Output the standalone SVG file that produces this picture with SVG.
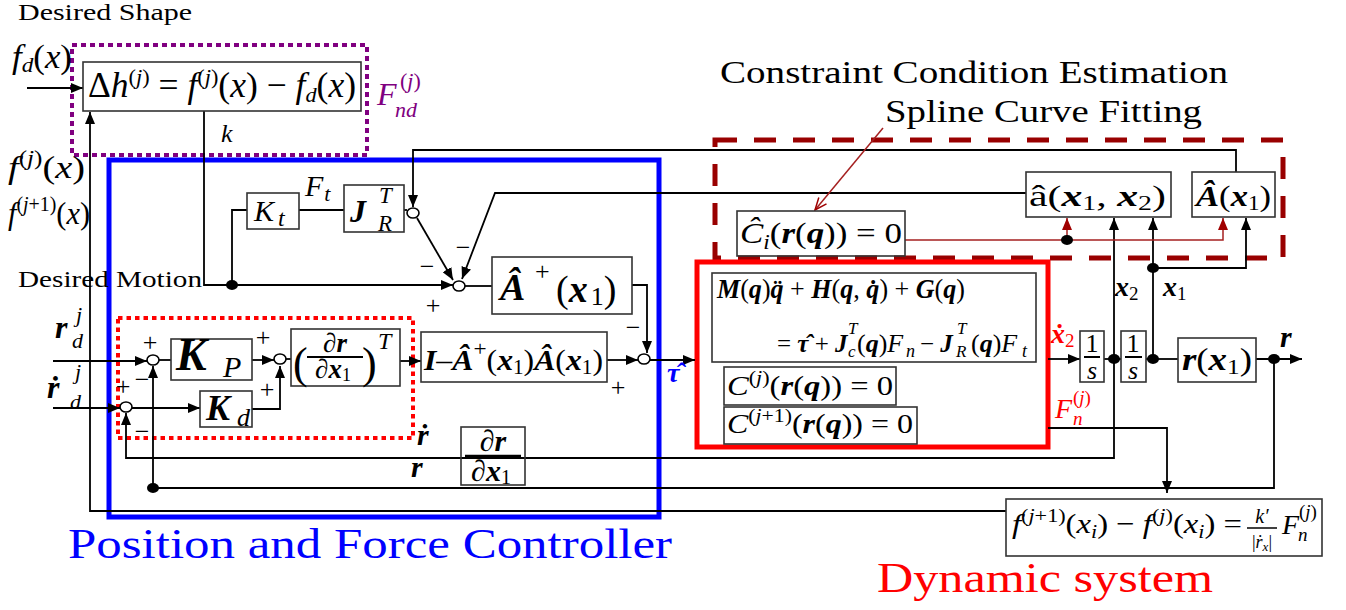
<svg xmlns="http://www.w3.org/2000/svg" width="1346" height="610" viewBox="0 0 1346 610">
<style>
text{font-family:"Liberation Serif","Times New Roman",serif;fill:#000}
.m{font-style:italic}
.b{font-weight:bold;font-style:italic}
.n{font-weight:normal;font-style:normal}
.bl{fill:#0000ff}
.rd{fill:#ff0000}
.pu{fill:#800080}
.box{fill:none;stroke:#333;stroke-width:1.6}
.ln{fill:none;stroke:#000;stroke-width:1.8}
.dr{fill:none;stroke:#a52020;stroke-width:1.5}
.jn{fill:#fff;stroke:#000;stroke-width:1.6}
.dot{fill:#000}
.sg{font-size:26px;text-anchor:middle}
</style>
<defs>
<marker id="ah" viewBox="0 0 12 10" refX="12" refY="5" markerWidth="12" markerHeight="10" markerUnits="userSpaceOnUse" orient="auto"><path d="M0,0L12,5L0,10z" fill="#000"/></marker>
<marker id="ahr" viewBox="0 0 12 10" refX="12" refY="5" markerWidth="12" markerHeight="10" markerUnits="userSpaceOnUse" orient="auto"><path d="M0,0L12,5L0,10z" fill="#a00000"/></marker>
<marker id="ahv" viewBox="0 0 14 12" refX="13" refY="6" markerWidth="14" markerHeight="12" markerUnits="userSpaceOnUse" orient="auto"><path d="M1,1L13,6L1,11" fill="none" stroke="#a00000" stroke-width="1.5"/></marker>
</defs>

<!-- frames -->
<g id="frames">
<rect x="72" y="45" width="295" height="110" fill="none" stroke="#800080" stroke-width="4" stroke-dasharray="5 4"/>
<rect x="109" y="160" width="550" height="357" fill="none" stroke="#0000ff" stroke-width="5"/>
<rect x="118" y="318" width="295" height="120" fill="none" stroke="#ff0000" stroke-width="4" stroke-dasharray="4.5 4"/>
<rect x="715" y="140" width="568" height="118" fill="none" stroke="#990000" stroke-width="5" stroke-dasharray="22 17"/>
<rect x="697" y="262" width="351" height="185" fill="none" stroke="#ff0000" stroke-width="5"/>
</g>

<!-- connectors -->
<g id="connectors">
<path class="ln" d="M27,88H83" marker-end="url(#ah)"/>
<path class="ln" d="M1006,511H90V112" marker-end="url(#ah)"/>
<path class="ln" d="M204,111V285H453" marker-end="url(#ah)"/>
<path class="ln" d="M232,285V210H247"/>
<path class="ln" d="M299,210H344"/>
<path class="ln" d="M404,210H407"/>
<path class="ln" d="M1236,172V150H413V207" marker-end="url(#ah)"/>
<path class="ln" d="M1026,193H495L462,279" marker-end="url(#ah)"/>
<path class="ln" d="M417,218L453,280" marker-end="url(#ah)"/>
<path class="ln" d="M465,286H492"/>
<path class="ln" d="M632,285H647V353" marker-end="url(#ah)"/>
<path class="ln" d="M607,360H638" marker-end="url(#ah)"/>
<path class="ln" d="M650,360H695" marker-end="url(#ah)"/>
<path class="ln" d="M53,361H147" marker-end="url(#ah)"/>
<path class="ln" d="M53,408H120" marker-end="url(#ah)"/>
<path class="ln" d="M159,360H171"/>
<path class="ln" d="M132,408H200" marker-end="url(#ah)"/>
<path class="ln" d="M252,360H274" marker-end="url(#ah)"/>
<path class="ln" d="M252,409H280V366" marker-end="url(#ah)"/>
<path class="ln" d="M286,359H291"/>
<path class="ln" d="M400,361H421" marker-end="url(#ah)"/>
<path class="ln" d="M1114,359V458H126V413" marker-end="url(#ah)"/>
<path class="ln" d="M1274,359V488H153V366" marker-end="url(#ah)"/>
<path class="ln" d="M1048,359H1080" marker-end="url(#ah)"/>
<path class="ln" d="M1104,359H1121"/>
<path class="ln" d="M1146,359H1178"/>
<path class="ln" d="M1256,359H1302" marker-end="url(#ah)"/>
<path class="ln" d="M1114,359V218" marker-end="url(#ah)"/>
<path class="ln" d="M1153,359V218" marker-end="url(#ah)"/>
<path class="ln" d="M1153,268H1246V218" marker-end="url(#ah)"/>
<path class="ln" d="M1048,428H1167V493" marker-end="url(#ah)"/>
<path class="dr" d="M905,240H1223V218" marker-end="url(#ahr)"/>
<path class="dr" d="M1067,240V218" marker-end="url(#ahr)"/>
<path class="dr" d="M883,128L815,210" marker-end="url(#ahv)"/>
<ellipse class="dot" cx="232" cy="285" rx="6" ry="5"/>
<ellipse class="dot" cx="153" cy="488" rx="6" ry="5"/>
<ellipse class="dot" cx="1114" cy="359" rx="6" ry="5"/>
<ellipse class="dot" cx="1153" cy="359" rx="6" ry="5"/>
<ellipse class="dot" cx="1274" cy="359" rx="6" ry="5"/>
<ellipse class="dot" cx="1153" cy="268" rx="6" ry="5"/>
<ellipse class="dot" cx="1067" cy="240" rx="6" ry="5"/>
</g>

<!-- junctions -->
<g id="sum1"><ellipse class="jn" cx="153" cy="360" rx="6" ry="5"/><text class="sg" x="150" y="351">+</text><text class="sg" x="142" y="388">−</text></g>
<g id="sum2"><ellipse class="jn" cx="126" cy="407" rx="6" ry="5"/><text class="sg" x="123" y="395">+</text><text class="sg" x="142" y="440">−</text></g>
<g id="sum3"><ellipse class="jn" cx="280" cy="359" rx="6" ry="5"/><text class="sg" x="263" y="346">+</text><text class="sg" x="267" y="398">+</text></g>
<g id="sum4"><ellipse class="jn" cx="459" cy="286" rx="6" ry="5"/><text class="sg" x="463" y="256">−</text><text class="sg" x="427" y="275">−</text><text class="sg" x="433" y="314">+</text></g>
<g id="sum5"><ellipse class="jn" cx="644" cy="359" rx="6" ry="5"/><text class="sg" x="633" y="336">−</text><text class="sg" x="618" y="396">+</text></g>
<g id="sumR"><ellipse class="jn" cx="413" cy="213" rx="6" ry="5"/></g>

<!-- labels -->
<g id="labels">
<text x="18" y="20" font-size="23" textLength="174" lengthAdjust="spacingAndGlyphs">Desired Shape</text>
<text x="18" y="287" font-size="23" textLength="184" lengthAdjust="spacingAndGlyphs">Desired Motion</text>
<text x="12" y="68" font-size="33" textLength="60" lengthAdjust="spacingAndGlyphs"><tspan class="m">f</tspan><tspan class="m" font-size="22" dy="4">d</tspan><tspan dy="-4">(</tspan><tspan class="m">x</tspan>)</text>
<text class="pu m" x="377" y="105" font-size="32">F</text>
<text class="pu" x="400" y="88" font-size="22">(<tspan class="m">j</tspan>)</text>
<text class="pu m" x="395" y="117" font-size="22">nd</text>
<text class="m" x="221" y="142" font-size="26">k</text>
<text x="8" y="178" font-size="32" textLength="77" lengthAdjust="spacingAndGlyphs"><tspan class="m">f</tspan><tspan font-size="21" dy="-13">(<tspan class="m">j</tspan>)</tspan><tspan dy="13">(</tspan><tspan class="m">x</tspan>)</text>
<text x="8" y="224" font-size="32" textLength="82" lengthAdjust="spacingAndGlyphs"><tspan class="m">f</tspan><tspan font-size="21" dy="-13">(<tspan class="m">j</tspan>+1)</tspan><tspan dy="13">(</tspan><tspan class="m">x</tspan>)</text>
<text class="m" x="305" y="196" font-size="30">F<tspan font-size="22" dx="1" dy="5">t</tspan></text>
<text class="b" x="55" y="338" font-size="32">r</text>
<text class="m" x="76" y="322" font-size="22">j</text>
<text class="m" x="72" y="348" font-size="22">d</text>
<text class="b" x="47" y="398" font-size="32">ṙ</text>
<text class="m" x="75" y="379" font-size="22">j</text>
<text class="m" x="70" y="409" font-size="22">d</text>
<text class="b" x="417" y="445" font-size="30">ṙ</text>
<text class="b" x="411" y="477" font-size="30">r</text>
<text class="bl b" x="667" y="382" font-size="28">τ̂</text>
<text x="720" y="83" font-size="31" textLength="508" lengthAdjust="spacingAndGlyphs">Constraint Condition Estimation</text>
<text x="885" y="122" font-size="31" textLength="317" lengthAdjust="spacingAndGlyphs">Spline Curve Fitting</text>
<text class="b" x="1115" y="296" font-size="28">x<tspan class="n" font-size="19" dy="4">2</tspan></text>
<text class="b" x="1163" y="296" font-size="28">x<tspan class="n" font-size="19" dy="4">1</tspan></text>
<text class="rd b" x="1051" y="343" font-size="28">ẋ<tspan class="n" font-size="19" dy="4">2</tspan></text>
<text class="rd m" x="1055" y="418" font-size="28">F</text>
<text class="rd" x="1073" y="404" font-size="19">(<tspan class="m">j</tspan>)</text>
<text class="rd m" x="1073" y="425" font-size="19">n</text>
<text class="b" x="1280" y="347" font-size="30">r</text>
<text class="bl" x="68" y="558" font-size="43" textLength="604" lengthAdjust="spacingAndGlyphs">Position and Force Controller</text>
<text class="rd" x="877" y="592" font-size="43" textLength="336" lengthAdjust="spacingAndGlyphs">Dynamic system</text>
</g>

<!-- nodes -->
<g id="node-dh">
<rect class="box" x="83" y="62" width="278" height="49" fill="#fff"/>
<text x="88" y="97" font-size="35" textLength="268" lengthAdjust="spacingAndGlyphs">Δ<tspan class="m">h</tspan><tspan font-size="22" dy="-13">(<tspan class="m">j</tspan>)</tspan><tspan dy="13"> = </tspan><tspan class="m">f</tspan><tspan font-size="22" dy="-13">(<tspan class="m">j</tspan>)</tspan><tspan dy="13">(</tspan><tspan class="m">x</tspan>) − <tspan class="m">f</tspan><tspan class="m" font-size="22" dy="5">d</tspan><tspan dy="-5">(</tspan><tspan class="m">x</tspan>)</text>
</g>
<g id="node-kt">
<rect class="box" x="247" y="193" width="52" height="36"/>
<text class="m" x="254" y="221" font-size="30">K<tspan font-size="24" dx="4" dy="5">t</tspan></text>
</g>
<g id="node-jr">
<rect class="box" x="344" y="185" width="60" height="47"/>
<text class="b" x="350" y="222" font-size="32">J</text>
<text class="m" x="379" y="203" font-size="23">T</text>
<text class="m" x="378" y="231" font-size="23">R</text>
</g>
<g id="node-aplus">
<rect class="box" x="492" y="257" width="140" height="57"/>
<text class="b" x="500" y="300" font-size="38">Â</text>
<text x="535" y="280" font-size="26">+</text>
<text x="556" y="302" font-size="38">(<tspan class="b">x</tspan><tspan font-size="26" dx="3" dy="3">1</tspan><tspan dy="-3">)</tspan></text>
</g>
<g id="node-kp">
<rect class="box" x="171" y="339" width="81" height="41"/>
<text class="b" x="176" y="370" font-size="46">K</text>
<text class="m" x="223" y="377" font-size="30">P</text>
</g>
<g id="node-kd">
<rect class="box" x="200" y="391" width="52" height="36"/>
<text class="b" x="206" y="420" font-size="36">K</text>
<text class="m" x="237" y="426" font-size="26">d</text>
</g>
<g id="node-jt">
<rect class="box" x="291" y="329" width="109" height="57"/>
<text x="293" y="378" font-size="44">(</text>
<text x="335" y="352" font-size="27" text-anchor="middle">∂<tspan class="b">r</tspan></text>
<line x1="307" y1="357" x2="363" y2="357" stroke="#000" stroke-width="2"/>
<text x="333" y="378" font-size="27" text-anchor="middle">∂<tspan class="b">x</tspan><tspan font-size="18" dy="3">1</tspan></text>
<text x="362" y="378" font-size="44">)</text>
<text class="m" x="378" y="349" font-size="24">T</text>
</g>
<g id="node-null">
<rect class="box" x="421" y="332" width="186" height="50"/>
<text x="424" y="370" font-size="30" textLength="179" lengthAdjust="spacingAndGlyphs"><tspan class="b">I</tspan>–<tspan class="b">Â</tspan><tspan font-size="22" dy="-14">+</tspan><tspan dy="14">(</tspan><tspan class="b">x</tspan><tspan font-size="20" dy="4">1</tspan><tspan dy="-4">)</tspan><tspan class="b">Â</tspan>(<tspan class="b">x</tspan><tspan font-size="20" dy="4">1</tspan><tspan dy="-4">)</tspan></text>
</g>
<g id="node-drdx">
<rect class="box" x="461" y="427" width="64" height="58"/>
<text x="493" y="451" font-size="30" text-anchor="middle">∂<tspan class="b">r</tspan></text>
<line x1="465" y1="456" x2="521" y2="456" stroke="#000" stroke-width="2.5"/>
<text x="491" y="481" font-size="30" text-anchor="middle">∂<tspan class="b">x</tspan><tspan font-size="20" dy="3">1</tspan></text>
</g>
<g id="node-dyn">
<rect class="box" x="712" y="273" width="324" height="89"/>
<text x="717" y="298" font-size="27" textLength="248" lengthAdjust="spacingAndGlyphs"><tspan class="b">M</tspan>(<tspan class="b">q</tspan>)<tspan class="b">q̈</tspan> + <tspan class="b">H</tspan>(<tspan class="b">q</tspan>, <tspan class="b">q̇</tspan>) + <tspan class="b">G</tspan>(<tspan class="b">q</tspan>)</text>
<text x="777" y="352" font-size="25">= <tspan class="b">τ̂</tspan> + <tspan class="b">J</tspan></text>
<text class="m" x="848" y="334" font-size="17">T</text>
<text class="m" x="848" y="357" font-size="17">c</text>
<text x="857" y="352" font-size="26">(<tspan class="b">q</tspan>)<tspan class="m">F</tspan></text>
<text class="m" x="906" y="357" font-size="18">n</text>
<text x="920" y="352" font-size="25">− <tspan class="b">J</tspan></text>
<text class="m" x="957" y="334" font-size="17">T</text>
<text class="m" x="956" y="357" font-size="17">R</text>
<text x="971" y="352" font-size="26">(<tspan class="b">q</tspan>)<tspan class="m">F</tspan></text>
<text class="m" x="1022" y="357" font-size="18">t</text>
</g>
<g id="node-cj">
<rect class="box" x="724" y="367" width="172" height="38"/>
<text x="727" y="395" font-size="28" textLength="166" lengthAdjust="spacingAndGlyphs"><tspan class="m">C</tspan><tspan font-size="19" dy="-11">(<tspan class="m">j</tspan>)</tspan><tspan dy="11">(</tspan><tspan class="b">r</tspan>(<tspan class="b">q</tspan>)) = 0</text>
</g>
<g id="node-cj1">
<rect class="box" x="724" y="407" width="193" height="37"/>
<text x="727" y="433" font-size="28" textLength="186" lengthAdjust="spacingAndGlyphs"><tspan class="m">C</tspan><tspan font-size="19" dy="-11">(<tspan class="m">j</tspan>+1)</tspan><tspan dy="11">(</tspan><tspan class="b">r</tspan>(<tspan class="b">q</tspan>)) = 0</text>
</g>
<g id="node-chat">
<rect class="box" x="737" y="211" width="168" height="45"/>
<text x="740" y="243" font-size="30" textLength="162" lengthAdjust="spacingAndGlyphs"><tspan class="m">Ĉ</tspan><tspan class="m" font-size="20" dy="6">i</tspan><tspan dy="-6">(</tspan><tspan class="b">r</tspan>(<tspan class="b">q</tspan>)) = 0</text>
</g>
<g id="node-ahat">
<rect class="box" x="1026" y="172" width="145" height="45"/>
<text x="1029" y="206" font-size="30" textLength="137" lengthAdjust="spacingAndGlyphs">â(<tspan class="b">x</tspan><tspan font-size="20" dy="4">1</tspan><tspan dy="-4">, </tspan><tspan class="b">x</tspan><tspan font-size="20" dy="4">2</tspan><tspan dy="-4">)</tspan></text>
</g>
<g id="node-Ahat">
<rect class="box" x="1192" y="172" width="83" height="45"/>
<text x="1196" y="206" font-size="30" textLength="75" lengthAdjust="spacingAndGlyphs"><tspan class="b">Â</tspan>(<tspan class="b">x</tspan><tspan font-size="20" dy="4">1</tspan><tspan dy="-4">)</tspan></text>
</g>
<g id="node-int1">
<rect class="box" x="1080" y="331" width="24" height="51"/>
<text x="1092" y="352" font-size="26" text-anchor="middle">1</text>
<line x1="1084" y1="357" x2="1100" y2="357" stroke="#000" stroke-width="2"/>
<text class="m" x="1092" y="379" font-size="26" text-anchor="middle">s</text>
</g>
<g id="node-int2">
<rect class="box" x="1121" y="331" width="25" height="51"/>
<text x="1133" y="352" font-size="26" text-anchor="middle">1</text>
<line x1="1125" y1="357" x2="1142" y2="357" stroke="#000" stroke-width="2"/>
<text class="m" x="1133" y="379" font-size="26" text-anchor="middle">s</text>
</g>
<g id="node-rx">
<rect class="box" x="1178" y="338" width="78" height="44"/>
<text x="1182" y="370" font-size="32" textLength="70" lengthAdjust="spacingAndGlyphs"><tspan class="b">r</tspan>(<tspan class="b">x</tspan><tspan font-size="22" dy="4">1</tspan><tspan dy="-4">)</tspan></text>
</g>
<g id="node-update">
<rect class="box" x="1006" y="499" width="316" height="57"/>
<text x="1012" y="533" font-size="28" textLength="230" lengthAdjust="spacingAndGlyphs"><tspan class="m">f</tspan><tspan font-size="19" dy="-11">(<tspan class="m">j</tspan>+1)</tspan><tspan dy="11">(</tspan><tspan class="m">x</tspan><tspan class="m" font-size="19" dy="5">i</tspan><tspan dy="-5">) − </tspan><tspan class="m">f</tspan><tspan font-size="19" dy="-11">(<tspan class="m">j</tspan>)</tspan><tspan dy="11">(</tspan><tspan class="m">x</tspan><tspan class="m" font-size="19" dy="5">i</tspan><tspan dy="-5">) =</tspan></text>
<text class="m" x="1262" y="523" font-size="20" text-anchor="middle">k′</text>
<line x1="1247" y1="528" x2="1277" y2="528" stroke="#000" stroke-width="1.5"/>
<text x="1262" y="548" font-size="18" text-anchor="middle">|<tspan class="m">ṙ</tspan><tspan class="m" font-size="13" dy="3">x</tspan><tspan dy="-3">|</tspan></text>
<text class="m" x="1282" y="534" font-size="28">F</text>
<text x="1299" y="518" font-size="19">(<tspan class="m">j</tspan>)</text>
<text class="m" x="1298" y="541" font-size="19">n</text>
</g>
</svg>
